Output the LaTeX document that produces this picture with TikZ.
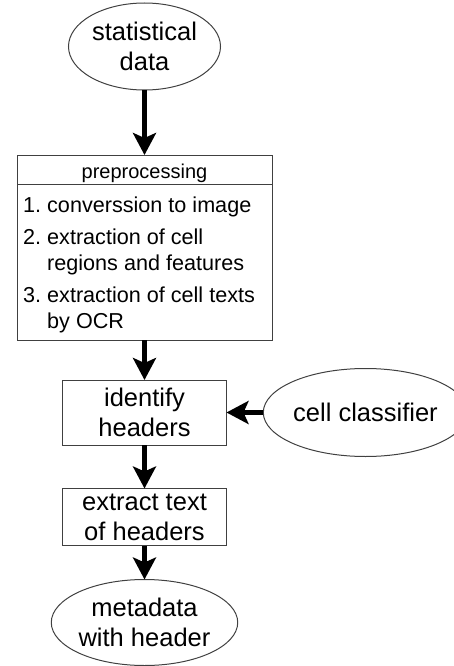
\documentclass[tikz,border=0pt]{standalone}
\usepackage{fontspec}
\setmainfont{Liberation Sans}
\usepackage{xcolor}
\usetikzlibrary{arrows.meta,shapes.geometric}

\begin{document}
\begin{tikzpicture}[x=1pt,y=-1pt,
  blob/.style={ellipse,draw=black!75,line width=1pt,inner sep=0pt,outer sep=0pt,align=center,font=\fontsize{25.5}{30}\selectfont},
  stage/.style={rectangle,draw=black!75,line width=1pt,inner sep=0pt,outer sep=0pt,align=center,font=\fontsize{25.5}{30}\selectfont},
  flow/.style={-{Stealth[length=22pt,width=23pt,inset=5pt]},line width=4.5pt}]
\useasboundingbox (0,0) rectangle (453,666);
\node [blob, minimum width=152pt, minimum height=87pt] (stat) at (144.5,46.5) {statistical\\data};
\node [stage, minimum width=255pt, minimum height=185pt] (prep) at (144.5,247.5) {};
\node [stage, minimum width=255pt, minimum height=29pt, anchor=north, text height=18pt, text depth=0pt, font=\fontsize{20}{24}\selectfont] (prephead) at (prep.north) {preprocessing};
\node [anchor=north west, inner sep=0pt, font=\fontsize{21.6}{26}\selectfont] (prepsteps) at (23,193.8) {\begin{tabular}{@{}l@{\ }l@{}}
1. & converssion to image\\[6pt]
2. & extraction of cell\\
   & regions and features\\[6pt]
3. & extraction of cell texts\\
   & by OCR
\end{tabular}};
\node [stage, minimum width=164pt, minimum height=65pt] (ident) at (144.5,412.5) {identify\\headers};
\node [blob, minimum width=172pt, minimum height=88pt] (clf) at (365.5,412.5) {cell classifier};
\node [stage, minimum width=164pt, minimum height=57pt] (extr) at (144.5,517) {extract text\\of headers};
\node [blob, minimum width=152pt, minimum height=86pt] (meta) at (144.5,622.5) {metadata\\with header};
\draw [flow] (stat) -- (prep);
\draw [flow] (prep) -- (ident);
\draw [flow] (clf) -- (ident);
\draw [flow] (ident) -- (extr);
\draw [flow] (extr) -- (meta);
\end{tikzpicture}
\end{document}
